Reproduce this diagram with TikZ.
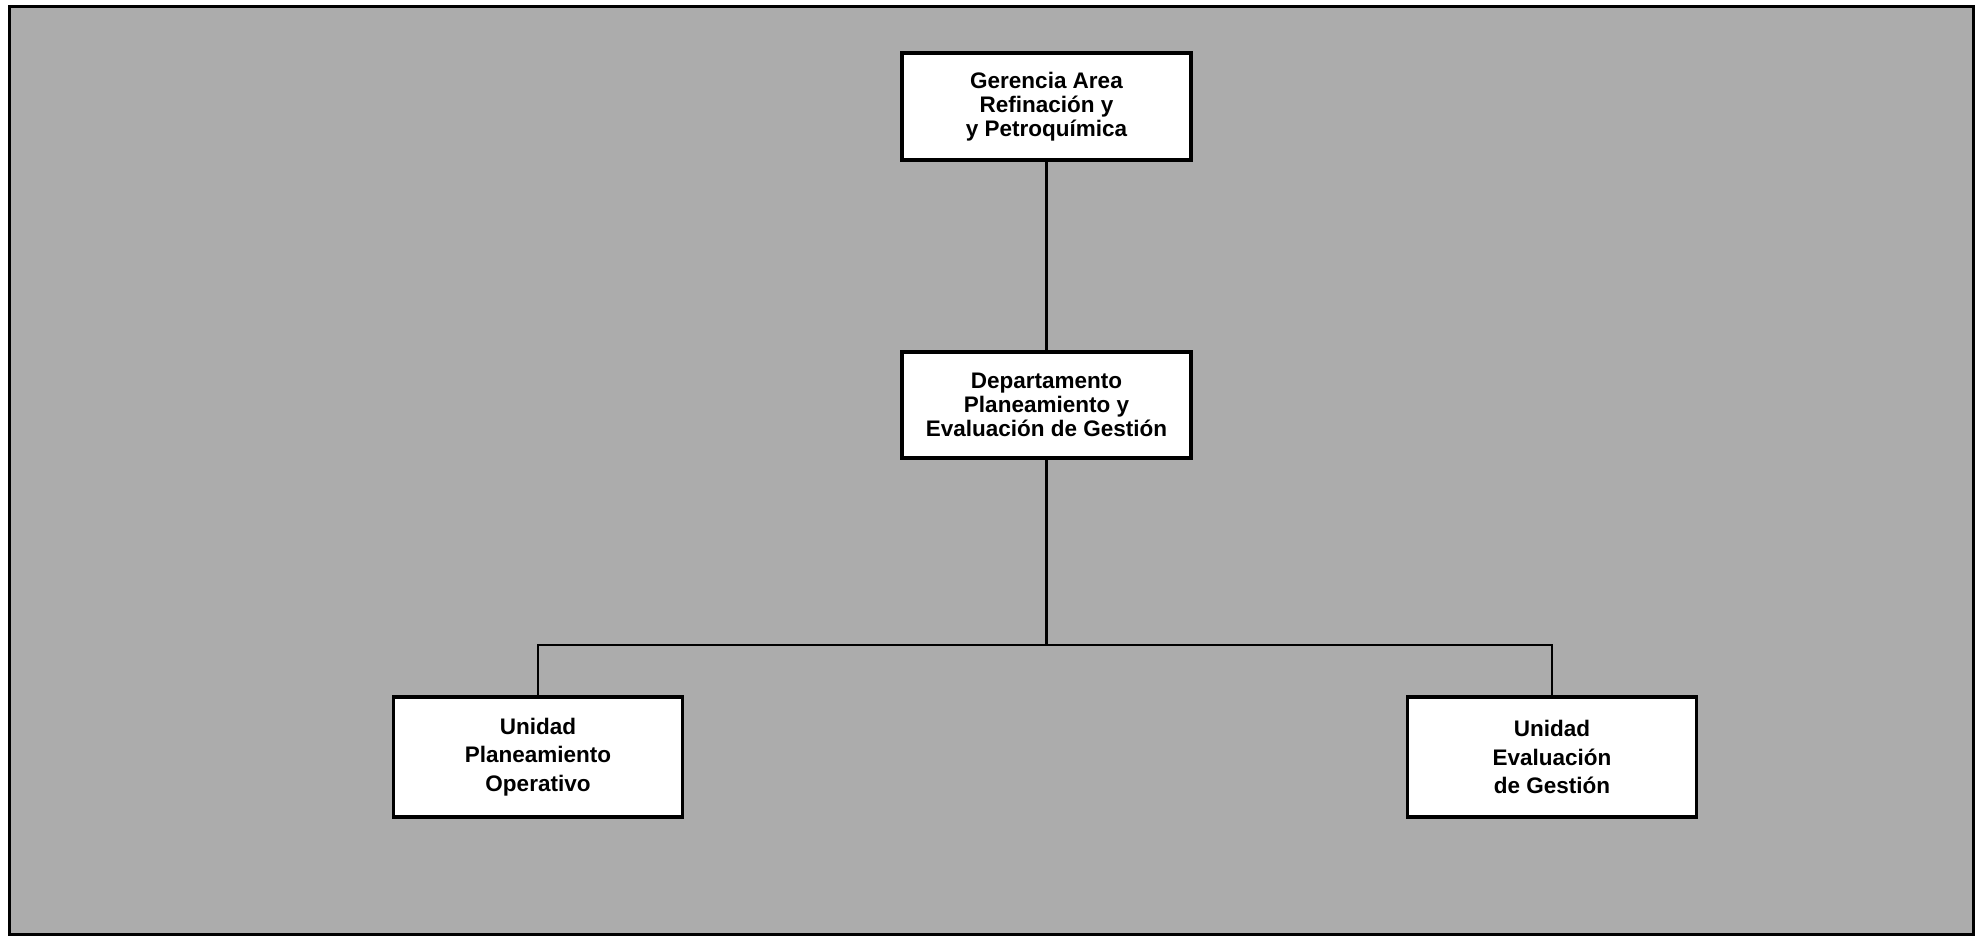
\documentclass[tikz,border=0pt]{standalone}
\usepackage{fontspec}
\setmainfont{Liberation Sans}
\definecolor{bggray}{RGB}{172,172,172}
\begin{document}
\begin{tikzpicture}[x=1pt,y=-1pt,
  orgbox/.style={draw=black, fill=white, line width=3.5pt, minimum width=289pt, align=center, inner sep=0pt, font=\bfseries\fontsize{22.5}{24}\selectfont},
  lowbox/.style={orgbox, minimum height=120pt, font=\bfseries\fontsize{22.5}{28.5}\selectfont},
  link/.style={draw=black, line width=2.2pt}]
\useasboundingbox (0,0) rectangle (1979,936);
\fill[white] (0,0) rectangle (1979,936);
\draw[fill=bggray, line width=3pt] (9,7) rectangle (1973,934);
\node[orgbox, minimum height=107pt] (top) at (1046.5,106.5) {Gerencia Area\\Refinación y\\y Petroquímica};
\node[orgbox, minimum height=106pt] (mid) at (1046.5,405) {Departamento\\Planeamiento y\\Evaluación de Gestión};
\node[lowbox] (left) at (538,757) {Unidad\\Planeamiento\\Operativo};
\node[lowbox] (right) at (1552,757) {Unidad\\Evaluación\\de Gestión};
\coordinate (jn) at (1046.5,645);
\draw[link] (top.south) -- (mid.north);
\draw[link] (mid.south) -- (jn);
\draw[link] (left.north) |- (jn) -| (right.north);
\end{tikzpicture}
\end{document}
